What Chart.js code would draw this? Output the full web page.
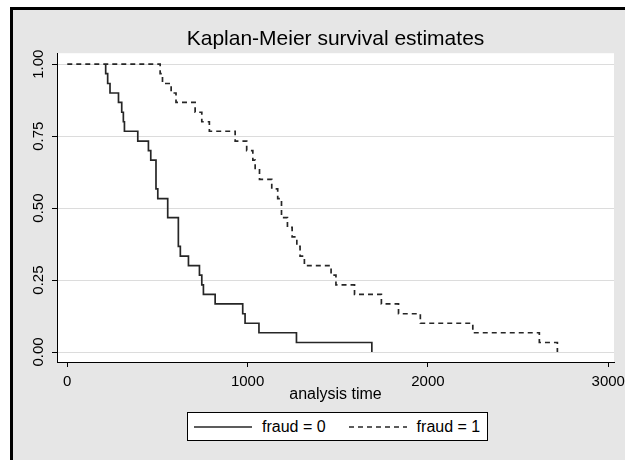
<!DOCTYPE html>
<html>
<head>
<meta charset="utf-8">
<script src="https://cdn.jsdelivr.net/npm/chart.js@4.4.0/dist/chart.umd.min.js"></script>
<style>
  html, body { margin: 0; padding: 0; background: #fff; overflow: hidden; }
  body { width: 625px; height: 460px; position: relative; font-family: "Liberation Sans", Arial, sans-serif; }
  .frame { position: absolute; left: 10px; top: 7px; right: 0; bottom: 0;
           border-left: 3px solid #000; border-top: 3px solid #000; background: #e6e6e6; }
  #km { position: absolute; left: 0; top: 0; }
  #legend { position: absolute; left: 187px; top: 412px; width: 293px; height: 27px;
            border: 1px solid #000; background: #fff; display: flex; align-items: center;
            padding-left: 6px; font-size: 16px; color: #000; }
  #legend .txt { margin-left: 10px; }
  #legend .gap { width: 23px; }
</style>
</head>
<body>
<div class="frame"></div>
<canvas id="km" width="625" height="460"></canvas>
<div id="legend"></div>
<script>
// Kaplan-Meier step data (time, survival after the drop)
// fraud = 0 stays hidden under the dashed line until its first failure
const timesFraud0 = [213, 213, 224, 237, 284, 302, 311, 317, 391, 450, 463, 492, 502, 557, 616, 627, 672, 733, 746, 755, 820, 973, 986, 1063, 1271, 1689];
const survFraud0  = [1, 0.967, 0.933, 0.9, 0.867, 0.833, 0.8, 0.767, 0.733, 0.7, 0.667, 0.567, 0.533, 0.467, 0.367, 0.333, 0.3, 0.267, 0.233, 0.2, 0.167, 0.133, 0.1, 0.067, 0.033, 0];

const timesFraud1 = [0, 515, 528, 576, 603, 709, 746, 788, 931, 995, 1029, 1042, 1066, 1134, 1167, 1188, 1221, 1247, 1273, 1291, 1315, 1463, 1490, 1593, 1742, 1837, 1958, 2249, 2618, 2718];
const survFraud1  = [1, 0.967, 0.933, 0.9, 0.867, 0.833, 0.8, 0.767, 0.733, 0.7, 0.667, 0.633, 0.6, 0.567, 0.533, 0.467, 0.433, 0.4, 0.367, 0.333, 0.3, 0.267, 0.233, 0.2, 0.167, 0.133, 0.1, 0.067, 0.033, 0];

const seriesLabels = ['fraud = 0', 'fraud = 1'];
const xTicks = [0, 1000, 2000, 3000];
const yTicks = [0, 0.25, 0.5, 0.75, 1];
const yTickLabels = ['0.00', '0.25', '0.50', '0.75', '1.00'];

const FONT = '"Liberation Sans", Arial, sans-serif';
const lineColor = '#262626';

const toPoints = (xs, ys) => xs.map((x, i) => ({ x: x, y: ys[i] }));

// white plot region on the grey background
const plotBg = {
  id: 'plotBg',
  beforeDraw(chart) {
    const { ctx, chartArea: a } = chart;
    ctx.save();
    ctx.fillStyle = '#fff';
    ctx.fillRect(a.left, a.top, a.right - a.left, a.bottom - a.top);
    ctx.restore();
  }
};

// y tick labels are rotated in the original
const yLabels = {
  id: 'yLabels',
  afterDraw(chart) {
    const { ctx, scales: { y } } = chart;
    ctx.save();
    ctx.font = '15px ' + FONT;
    ctx.fillStyle = '#000';
    ctx.textAlign = 'center';
    ctx.textBaseline = 'middle';
    yTicks.forEach((v, i) => {
      ctx.save();
      ctx.translate(y.left + 28, y.getPixelForValue(v));
      ctx.rotate(-Math.PI / 2);
      ctx.fillText(yTickLabels[i], 0, 0);
      ctx.restore();
    });
    ctx.restore();
  }
};

const chart = new Chart(document.getElementById('km'), {
  type: 'line',
  data: {
    datasets: [
      {
        label: seriesLabels[0],
        data: toPoints(timesFraud0, survFraud0),
        borderColor: lineColor,
        borderWidth: 1.7,
        stepped: true,
        pointRadius: 0,
        fill: false
      },
      {
        label: seriesLabels[1],
        data: toPoints(timesFraud1, survFraud1),
        borderColor: lineColor,
        borderWidth: 1.7,
        borderDash: [5, 4],
        stepped: true,
        pointRadius: 0,
        fill: false
      }
    ]
  },
  options: {
    responsive: false,
    animation: false,
    layout: { padding: { left: 11, right: 11, top: 9, bottom: 60 } },
    plugins: {
      legend: { display: false },
      tooltip: { enabled: false },
      title: {
        display: true,
        fullSize: false,
        text: 'Kaplan-Meier survival estimates',
        color: '#000',
        font: { family: FONT, size: 21, weight: 'normal' },
        padding: { top: 18, bottom: 1 }
      }
    },
    scales: {
      x: {
        type: 'linear',
        min: -57,
        max: 3032,
        afterBuildTicks: s => { s.ticks = xTicks.map(v => ({ value: v })); },
        // fixed axis band; the "3000" label may run into the right margin
        afterFit: s => {
          s.height = 38;
          s.paddingLeft = 0;
          s.paddingRight = 0;
        },
        ticks: {
          color: '#000',
          padding: 7,
          maxRotation: 0,
          font: { family: FONT, size: 15, lineHeight: 1 },
          callback: v => String(v)
        },
        grid: { drawOnChartArea: false, drawTicks: true, tickLength: 5, tickColor: '#000' },
        border: { color: '#000', width: 1 },
        title: {
          display: true,
          text: 'analysis time',
          color: '#000',
          font: { family: FONT, size: 16, lineHeight: 0.7 },
          padding: { top: 0, bottom: 0 }
        }
      },
      y: {
        min: -0.0347,
        max: 1.0382,
        afterBuildTicks: s => { s.ticks = yTicks.map(v => ({ value: v })); },
        afterFit: s => { s.width = 46; },
        ticks: { display: false },
        grid: { color: '#dcdcdc', lineWidth: 1, tickLength: 5, tickColor: '#000' },
        border: { color: '#000', width: 1 }
      }
    }
  },
  plugins: [plotBg, yLabels]
});

// legend box built from the datasets
const legendEl = document.getElementById('legend');
chart.data.datasets.forEach((ds, i) => {
  if (i > 0) {
    const gap = document.createElement('span');
    gap.className = 'gap';
    legendEl.appendChild(gap);
  }
  const dash = ds.borderDash ? ds.borderDash.join(',') : 'none';
  const svg = '<svg width="58" height="4" style="display:block"><line x1="0" y1="2" x2="58" y2="2" stroke="' +
    ds.borderColor + '" stroke-width="1.4" stroke-dasharray="' + dash + '"/></svg>';
  const sample = document.createElement('span');
  sample.innerHTML = svg;
  legendEl.appendChild(sample);
  const txt = document.createElement('span');
  txt.className = 'txt';
  txt.textContent = ds.label;
  legendEl.appendChild(txt);
});
</script>
</body>
</html>
